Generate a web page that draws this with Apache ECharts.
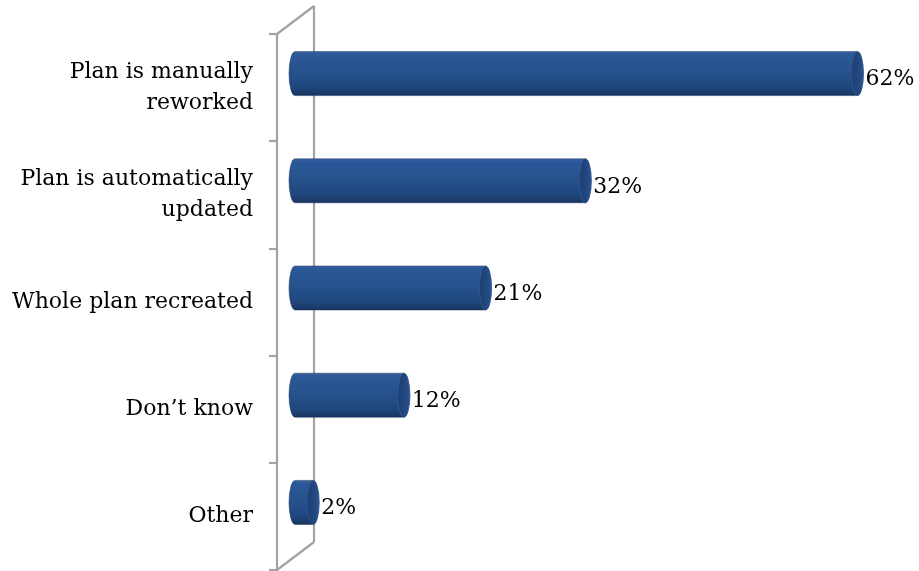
<!DOCTYPE html>
<html>
<head>
<meta charset="utf-8">
<script src="https://cdn.jsdelivr.net/npm/echarts@6/dist/echarts.min.js"></script>
<style>
  html, body { margin: 0; padding: 0; background: #fff; }
  #chart { width: 919px; height: 571px; }
</style>
</head>
<body>
<div id="chart"></div>
<script>
// Survey answers and their shares (percent)
const categories = [
  'Plan is manually\nreworked',
  'Plan is automatically\nupdated',
  'Whole plan recreated',
  'Don\u2019t know',
  'Other'
];
const shares = [62, 32, 21, 12, 2];

// Pseudo-3D depth of the wall and of the cylinders inside it
const WALL_DX = 37, WALL_DY = -28;
const BAR_DX = 18, BAR_DY = -14;
const BAR_H = 44, CAP_RX = 6;
const SERIF = '"DejaVu Serif", "Liberation Serif", serif';
const GRAY = '#a3a3a3';

const chart = echarts.init(document.getElementById('chart'), null, { renderer: 'canvas' });

function renderWall(params, api) {
  const cs = params.coordSys;
  const x0 = cs.x, y0 = cs.y, y1 = cs.y + cs.height;
  const style = { stroke: GRAY, lineWidth: 2.2 };
  return {
    type: 'group',
    children: [
      { type: 'line', shape: { x1: x0 + WALL_DX, y1: y0 + WALL_DY, x2: x0 + WALL_DX, y2: y1 + WALL_DY }, style },
      { type: 'line', shape: { x1: x0, y1: y0, x2: x0 + WALL_DX, y2: y0 + WALL_DY }, style },
      { type: 'line', shape: { x1: x0, y1: y1, x2: x0 + WALL_DX, y2: y1 + WALL_DY }, style }
    ]
  };
}

function renderCylinder(params, api) {
  const cat = api.value(1);
  const val = api.value(0);
  const base = api.coord([0, cat]);
  const end = api.coord([val, cat]);
  const x0 = base[0] + BAR_DX;
  const x1 = end[0] + BAR_DX;
  const cy = base[1] + BAR_DY;
  const top = cy - BAR_H / 2, bot = cy + BAR_H / 2;
  const ry = BAR_H / 2, rx = CAP_RX;

  const bodyPath =
    'M' + x0 + ',' + top + ' L' + x1 + ',' + top +
    ' A' + rx + ',' + ry + ' 0 0 1 ' + x1 + ',' + bot +
    ' L' + x0 + ',' + bot +
    ' A' + rx + ',' + ry + ' 0 0 1 ' + x0 + ',' + top + ' Z';
  const capPath =
    'M' + x1 + ',' + top +
    ' A' + rx + ',' + ry + ' 0 0 1 ' + x1 + ',' + bot +
    ' A' + rx + ',' + ry + ' 0 0 1 ' + x1 + ',' + top + ' Z';

  const bodyFill = new echarts.graphic.LinearGradient(0, 0, 0, 1, [
    { offset: 0, color: '#3f68a5' },
    { offset: 0.07, color: '#2b5898' },
    { offset: 0.45, color: '#26528e' },
    { offset: 0.8, color: '#20477d' },
    { offset: 1, color: '#183461' }
  ]);
  const capFill = new echarts.graphic.LinearGradient(0, 0, 1, 0, [
    { offset: 0, color: '#1c3d70' },
    { offset: 0.7, color: '#234a83' },
    { offset: 1, color: '#2c5894' }
  ]);

  return {
    type: 'group',
    children: [
      { type: 'path', shape: { pathData: bodyPath }, style: { fill: bodyFill, stroke: 'rgba(22,45,85,0.6)', lineWidth: 0.8 } },
      { type: 'path', shape: { pathData: capPath }, style: { fill: capFill, stroke: 'rgba(60,95,150,0.7)', lineWidth: 0.8 } },
      {
        type: 'text',
        style: {
          x: x1 + rx + 2, y: cy + 6,
          text: val + '%',
          fill: '#000',
          font: '22px ' + SERIF,
          align: 'left', verticalAlign: 'middle'
        }
      }
    ]
  };
}

chart.setOption({
  animation: false,
  grid: { left: 277, top: 34, bottom: 1, right: 7, containLabel: false },
  xAxis: {
    type: 'value', min: 0, max: 70, show: false
  },
  yAxis: {
    type: 'category',
    data: categories,
    inverse: true,
    axisLine: { show: true, lineStyle: { color: GRAY, width: 2.2 } },
    axisTick: { show: true, length: 8, lineStyle: { color: GRAY, width: 2.2 } },
    axisLabel: {
      margin: 24,
      color: '#000',
      fontFamily: SERIF,
      fontSize: 22,
      lineHeight: 31,
      align: 'right'
    },
    splitLine: { show: false }
  },
  series: [
    {
      type: 'custom',
      renderItem: renderWall,
      data: [[0, categories[0]]],
      z: 1,
      silent: true
    },
    {
      type: 'custom',
      renderItem: renderCylinder,
      encode: { x: 0, y: 1 },
      data: shares.map((v, i) => [v, categories[i]]),
      z: 2
    }
  ]
});
</script>
</body>
</html>
